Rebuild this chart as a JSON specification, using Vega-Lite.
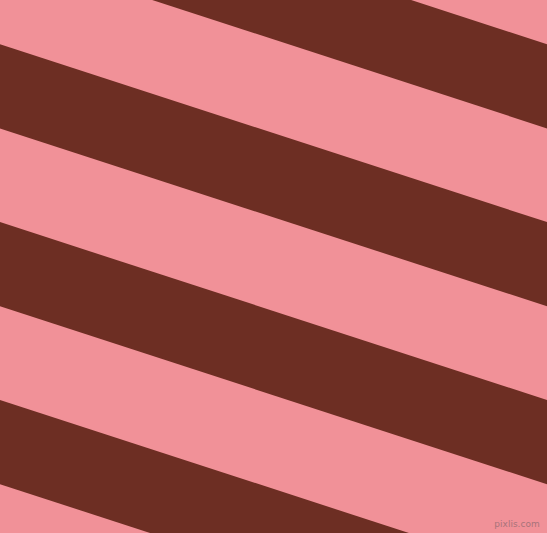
{
  "$schema": "https://vega.github.io/schema/vega-lite/v6.json",
  "autosize": {"type": "fit", "contains": "padding"},
  "width": 547,
  "height": 533,
  "padding": 0,
  "background": "#F19198",
  "config": {"view": {"stroke": null}},
  "layer": [
    {
      "data": {
        "values": [
          {"band": "A", "x": 0, "top": -133.7, "bottom": -49.5},
          {"band": "A", "x": 547, "top": 44.2, "bottom": 128.4},
          {"band": "B", "x": 0, "top": 44.2, "bottom": 128.4},
          {"band": "B", "x": 547, "top": 222.1, "bottom": 306.3},
          {"band": "C", "x": 0, "top": 222.1, "bottom": 306.3},
          {"band": "C", "x": 547, "top": 400.0, "bottom": 484.2},
          {"band": "D", "x": 0, "top": 400.0, "bottom": 484.2},
          {"band": "D", "x": 547, "top": 577.9, "bottom": 662.1}
        ]
      },
      "mark": {"type": "area", "color": "#6D2E23", "clip": true, "interpolate": "linear"},
      "encoding": {
        "x": {"field": "x", "type": "quantitative", "scale": {"domain": [0, 547], "nice": false, "zero": false}, "axis": null},
        "y": {"field": "top", "type": "quantitative", "scale": {"domain": [0, 533], "nice": false, "zero": false, "reverse": true}, "axis": null},
        "y2": {"field": "bottom"},
        "detail": {"field": "band", "type": "nominal"}
      }
    },
    {
      "data": {"values": [{"label": "pixlis.com", "x": 517, "y": 527}]},
      "mark": {"type": "text", "font": "DejaVu Sans", "fontSize": 9, "color": "#A8737A", "align": "center", "baseline": "alphabetic"},
      "encoding": {
        "x": {"field": "x", "type": "quantitative"},
        "y": {"field": "y", "type": "quantitative"},
        "text": {"field": "label"}
      }
    }
  ]
}
